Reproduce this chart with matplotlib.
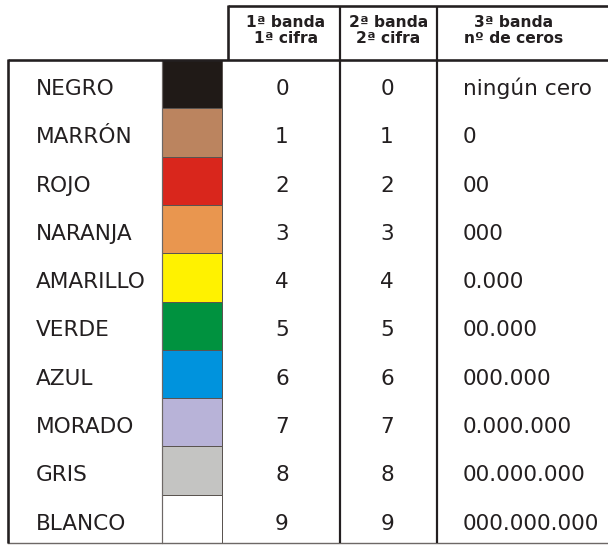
import matplotlib
matplotlib.use("Agg")
import matplotlib.pyplot as plt
from matplotlib.patches import Rectangle

names = ["NEGRO", "MARRÓN", "ROJO", "NARANJA", "AMARILLO", "VERDE", "AZUL",
         "MORADO", "GRIS", "BLANCO"]
colors = ["#201a17", "#bb845f", "#d9261c", "#e9964f", "#fff200", "#00923f",
          "#0093dd", "#b8b3d8", "#c4c4c2", "#ffffff"]
first_digit = ["0", "1", "2", "3", "4", "5", "6", "7", "8", "9"]
second_digit = ["0", "1", "2", "3", "4", "5", "6", "7", "8", "9"]
zeros = ["ningún cero", "0", "00", "000", "0.000", "00.000", "000.000",
         "0.000.000", "00.000.000", "000.000.000"]
headers = [("1ª banda", "1ª cifra"), ("2ª banda", "2ª cifra"),
           ("3ª banda", "nº de ceros")]

W, H = 608, 545
fig = plt.figure(figsize=(W / 100, H / 100), dpi=100)
ax = fig.add_axes([0, 0, 1, 1])
ax.set_xlim(0, W)
ax.set_ylim(H, 0)
ax.axis("off")

dark = "#231f20"
px = 0.72  # points per pixel

# geometry
x_left, x_sw0, x_sw1, x_hdr, x_c1, x_c2, x_right = 8, 162, 222, 228, 340, 437, 612
y_hdr, y_top, y_bot = 6, 60, 543
n = len(names)
rh = (y_bot - y_top) / n

# swatches
for i, c in enumerate(colors):
    ax.add_patch(Rectangle((x_sw0, y_top + i * rh), x_sw1 - x_sw0, rh,
                           facecolor=c, edgecolor="#5a5450", lw=1.0 * px))

# thin lines
ax.plot([x_sw0, x_sw0], [y_top, y_bot], color="#6d6866", lw=1.2 * px)
ax.plot([x_left, x_right], [y_bot, y_bot], color="#6d6866", lw=1.4 * px)

# thick lines
lw = 2.6 * px
ax.plot([x_left, x_right], [y_top, y_top], color=dark, lw=lw, solid_capstyle="butt")
ax.plot([x_left, x_left], [y_top - 1, y_bot], color=dark, lw=lw, solid_capstyle="butt")
ax.plot([x_hdr, x_right], [y_hdr, y_hdr], color=dark, lw=lw, solid_capstyle="butt")
ax.plot([x_hdr, x_hdr], [y_hdr - 1, y_top], color=dark, lw=lw, solid_capstyle="butt")
for xv in (x_c1, x_c2):
    ax.plot([xv, xv], [y_hdr, y_bot], color=dark, lw=2.2 * px, solid_capstyle="butt")

# headers
hcent = [(x_hdr + x_c1) / 2 + 2, (x_c1 + x_c2) / 2, 514]
for (l1, l2), xc in zip(headers, hcent):
    ax.text(xc, 27, l1, ha="center", va="baseline", fontsize=11.2,
            fontweight="bold", color=dark, family="DejaVu Sans")
    ax.text(xc, 43, l2, ha="center", va="baseline", fontsize=11.2,
            fontweight="bold", color=dark, family="DejaVu Sans")

# rows
fs = 15.6
for i in range(n):
    yb = y_top + i * rh + 35
    ax.text(36, yb, names[i], ha="left", va="baseline", fontsize=fs, color=dark)
    ax.text(282, yb, first_digit[i], ha="center", va="baseline", fontsize=fs, color=dark)
    ax.text(387, yb, second_digit[i], ha="center", va="baseline", fontsize=fs, color=dark)
    ax.text(463, yb, zeros[i], ha="left", va="baseline", fontsize=fs, color=dark)

fig.savefig("out.png", dpi=100, facecolor="white")
